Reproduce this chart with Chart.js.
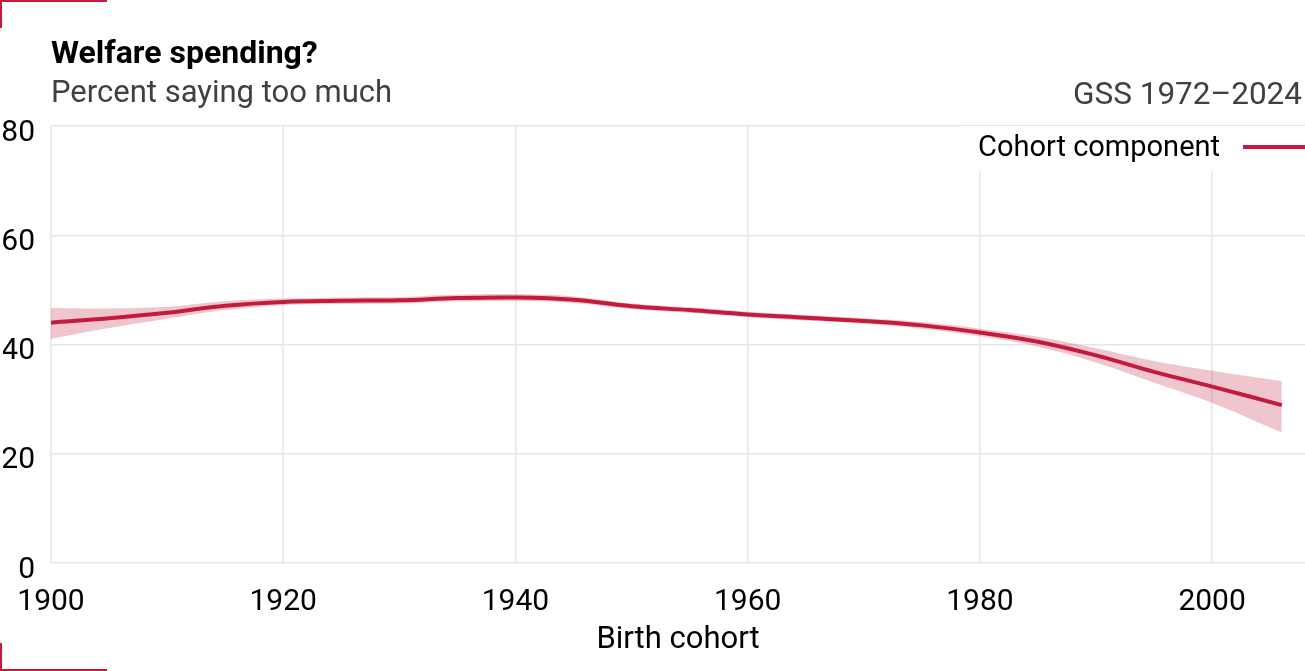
<!DOCTYPE html>
<html>
<head>
<meta charset="utf-8">
<script src="https://cdn.jsdelivr.net/npm/chart.js@4"></script>
<style>
  body { margin: 0; background: #fff; font-family: Roboto, sans-serif; }
  #wrap { position: relative; width: 1305px; height: 671px; overflow: hidden; }
  #graph { position: absolute; left: 0; top: 0; }
  .txt { position: absolute; line-height: 1; white-space: nowrap; }
  #title { left: 51px; top: 36px; font-size: 32px; font-weight: 700; color: #000; }
  #subtitle { left: 51px; top: 76px; font-size: 31px; color: #404040; }
  #source { right: 3px; top: 78px; font-size: 31.5px; color: #404040; }
  #legend { position: absolute; left: 962px; top: 126px; width: 343px; height: 45px; background: #fff; }
  #legend span.lbl { position: absolute; left: 16px; top: 6px; font-size: 29px; line-height: 1; color: #000; }
  #legend span.key { position: absolute; left: 281px; top: 19px; width: 62px; height: 4px; background: #c41a3b; }
  .corner { position: absolute; left: 0; width: 105px; height: 26px; border-left: 2px solid #c41a3b; }
  #c-top { top: 0; border-top: 2px solid #c41a3b; }
  #c-bot { bottom: 0; border-bottom: 2px solid #c41a3b; }
</style>
</head>
<body>
<div id="wrap">
  <canvas id="graph" width="1305" height="671"></canvas>
  <div class="corner" id="c-top"></div>
  <div class="corner" id="c-bot"></div>
  <div class="txt" id="title">Welfare spending?</div>
  <div class="txt" id="subtitle">Percent saying too much</div>
  <div class="txt" id="source">GSS 1972–2024</div>
  <div id="legend"><span class="lbl" id="legend-label"></span><span class="key"></span></div>
</div>
<script>
// data
let years = [1900, 1905, 1910, 1915, 1920, 1925, 1930, 1935, 1940, 1945, 1950,
    1955, 1960, 1965, 1970, 1975, 1980, 1985, 1990, 1995, 2000, 2006]
let cohort = [44.0, 44.8, 45.8, 47.1, 47.8, 48.0, 48.1, 48.5, 48.6, 48.2, 47.0,
    46.3, 45.5, 44.9, 44.3, 43.5, 42.2, 40.5, 38.0, 35.0, 32.3, 28.9]
let upper = [46.7, 46.6, 46.9, 47.9, 48.4, 48.6, 48.7, 49.1, 49.2, 48.8, 47.5,
    46.8, 46.0, 45.4, 44.8, 44.1, 42.9, 41.4, 39.3, 37.0, 35.2, 33.3]
let lower = [41.0, 43.0, 44.7, 46.3, 47.2, 47.4, 47.5, 47.9, 48.0, 47.6, 46.5,
    45.8, 45.0, 44.4, 43.8, 42.9, 41.5, 39.6, 36.7, 33.0, 29.3, 23.9]
let xTicks = [1900, 1920, 1940, 1960, 1980, 2000]
let yTicks = [0, 20, 40, 60, 80]
let seriesName = 'Cohort component'

document.getElementById('legend-label').textContent = seriesName

let red = '#c41a3b'
let toXY = arr => arr.map((v, i) => ({ x: years[i], y: v }))

let ctx = document.getElementById('graph').getContext('2d')

let graph = new Chart(ctx, {
    type: 'line',
    data: {
        datasets: [
            {
                label: 'upper',
                data: toXY(upper),
                borderWidth: 0,
                pointRadius: 0,
                fill: false,
                tension: 0.4,
            },
            {
                label: 'lower',
                data: toXY(lower),
                borderWidth: 0,
                pointRadius: 0,
                backgroundColor: 'rgba(196, 26, 59, 0.25)',
                fill: '-1',
                tension: 0.4,
            },
            {
                label: seriesName,
                data: toXY(cohort),
                borderColor: red,
                borderWidth: 4,
                pointRadius: 0,
                fill: false,
                tension: 0.4,
            },
        ]
    },
    options: {
        responsive: false,
        animation: false,
        layout: { autoPadding: false, padding: { left: 3, right: 0, top: 126, bottom: 0 } },
        plugins: {
            legend: { display: false },
            tooltip: { enabled: false },
        },
        scales: {
            x: {
                type: 'linear',
                min: 1900,
                max: 2008,
                afterBuildTicks: s => { s.ticks = xTicks.map(v => ({ value: v })) },
                afterFit: s => {
                    // keep the plot edge where the y labels want it
                    s.height = 108
                    s.paddingLeft = 0
                    s.paddingRight = 0
                },
                border: { display: false },
                grid: { color: '#e6e6e6', lineWidth: 1.5, drawTicks: false },
                ticks: {
                    color: '#000',
                    font: { family: 'Roboto', size: 30 },
                    padding: 21,
                    maxRotation: 0,
                    callback: v => String(v),
                },
                title: {
                    display: true,
                    text: 'Birth cohort',
                    color: '#000',
                    font: { family: 'Roboto', size: 31 },
                    padding: { top: 0, bottom: 12 },
                },
            },
            y: {
                min: 0,
                max: 80,
                afterBuildTicks: s => { s.ticks = yTicks.map(v => ({ value: v })) },
                afterFit: s => { s.width = 48 },
                border: { display: false },
                grid: { color: '#e6e6e6', lineWidth: 1.5, drawTicks: false },
                ticks: {
                    color: '#000',
                    font: { family: 'Roboto', size: 30 },
                    padding: 16,
                    labelOffset: 7,
                },
            },
        },
    },
})
</script>
</body>
</html>
